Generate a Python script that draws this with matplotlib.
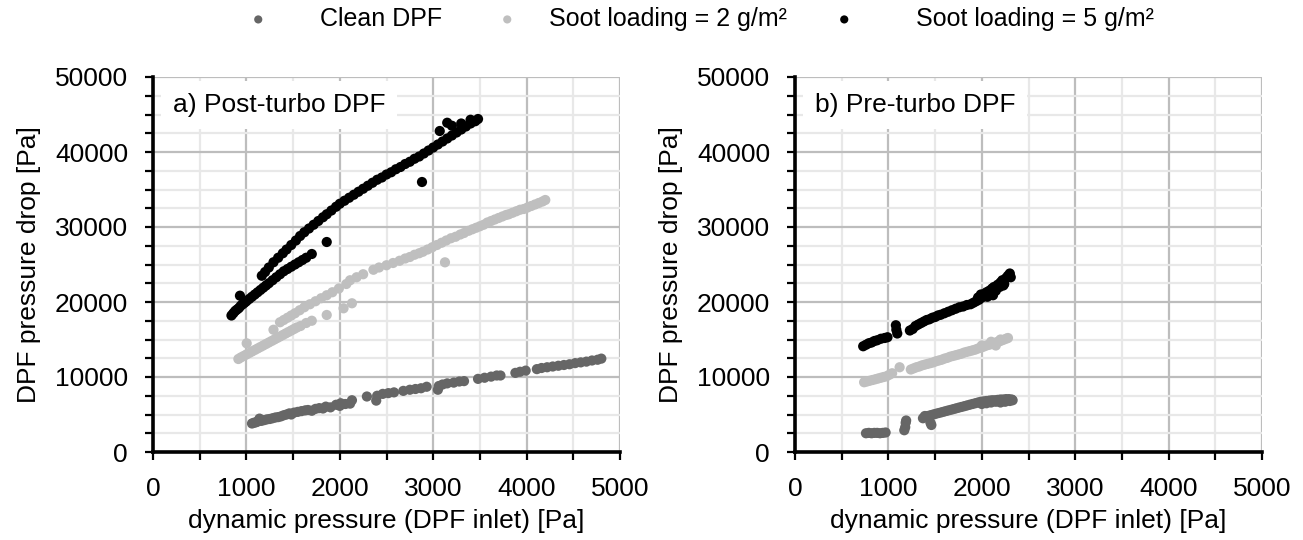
import matplotlib
matplotlib.use("Agg")
import matplotlib.pyplot as plt
from matplotlib.ticker import MultipleLocator
import numpy as np

plt.rcParams['font.family'] = ['Liberation Sans', 'DejaVu Sans']

# ---------------- data ----------------
# a) Post-turbo DPF
a_clean_x = [1060, 1080, 1100, 1120, 1140, 1160, 1190, 1220, 1250, 1280, 1310, 1340, 1370, 1400, 1430,
             1460, 1480, 1510, 1550, 1590, 1630, 1660, 1700, 1740, 1780, 1820, 1850, 1900, 1960, 2000,
             2010, 2060, 2110, 2130, 2290, 2390, 2400, 2460, 2520, 2580, 2680, 2750, 2810, 2870, 2930,
             3050, 3060, 3100, 3150, 3220, 3280, 3330, 3480, 3550, 3620, 3680, 3720, 3880, 3930, 3990,
             4110, 4160, 4220, 4280, 4340, 4400, 4460, 4520, 4580, 4640, 4700, 4760, 4800]
a_clean_y = [3800, 3900, 3950, 4050, 4450, 4150, 4250, 4350, 4400, 4500, 4600, 4650, 4750, 4900, 5000,
             5150, 5000, 5250, 5350, 5450, 5550, 5600, 5500, 5750, 5850, 5800, 6050, 5950, 6300, 6150,
             6500, 6400, 6450, 6900, 7400, 6850, 7500, 7750, 7850, 7950, 8150, 8300, 8400, 8500, 8700,
             8300, 8800, 9000, 9150, 9250, 9400, 9450, 9750, 9900, 10050, 10200, 10200, 10550, 10700, 10850,
             11050, 11200, 11300, 11400, 11500, 11600, 11700, 11850, 11950, 12050, 12200, 12300, 12450]

a_soot2_x = [914, 940, 970, 1000, 1030, 1060, 1090, 1120, 1150, 1180, 1210, 1240, 1270, 1300, 1330,
             1360, 1390, 1420, 1450, 1480, 1510, 1540, 1580, 1640, 1700, 1860, 2040, 2130, 1003,
             1290, 1360, 1400, 1440, 1480, 1520, 1570, 1620, 1680, 1740, 1800, 1860, 1920, 1990, 2070,
             2110, 2180, 2250, 2360, 2420, 2500, 2570, 2640, 2700, 2750, 2800, 2850, 2890, 2940, 2990,
             3040, 3090, 3140, 3190, 3240, 3290, 3330, 3380, 3420, 3460, 3500, 3540, 3580, 3620, 3660,
             3700, 3740, 3780, 3810, 3850, 3890, 3930, 3970, 4010, 4050, 4090, 4130, 4170, 4200, 3126]
a_soot2_y = [12400, 12600, 12800, 13000, 13200, 13400, 13600, 13800, 14000, 14200, 14400, 14600, 14800, 15000, 15200,
             15400, 15600, 15800, 16000, 16200, 16400, 16600, 16800, 17200, 17500, 18270, 19160, 19830, 14490,
             16300, 17300, 17600, 17900, 18200, 18500, 18900, 19300, 19700, 20100, 20500, 20900, 21300, 21800, 22400,
             22900, 23300, 23700, 24300, 24600, 24900, 25200, 25500, 25800, 26000, 26300, 26500, 26700, 27000, 27300,
             27600, 27900, 28200, 28500, 28700, 29000, 29200, 29500, 29700, 29900, 30100, 30300, 30600, 30800, 31000,
             31200, 31400, 31600, 31700, 31900, 32100, 32300, 32400, 32600, 32800, 33000, 33200, 33400, 33600, 25290]

a_soot5_x = [840, 860, 880, 900, 920, 940, 960, 980, 1000, 1030, 1060, 1090, 1120, 1150, 1180, 1210,
             1240, 1280, 1320, 1360, 1400, 1440, 1480, 1520, 1560, 1600, 1640, 1700,
             931, 1860, 2880, 3070, 3150, 3200, 3300, 3400,
             1165, 1200, 1240, 1290, 1340, 1390, 1430, 1480, 1530, 1575, 1620, 1670, 1720, 1770, 1820,
             1860, 1910, 1960, 2000, 2050, 2100, 2150, 2200, 2250, 2300, 2350, 2400, 2450, 2500, 2550,
             2600, 2650, 2700, 2750, 2800, 2850, 2900, 2950, 3000, 3050, 3100, 3150, 3200, 3250, 3300,
             3350, 3400, 3450, 3480]
a_soot5_y = [18200, 18500, 18800, 19000, 19200, 19500, 19700, 19900, 20100, 20400, 20700, 21000, 21300, 21600, 21900, 22200,
             22500, 22900, 23300, 23700, 24100, 24400, 24700, 25000, 25300, 25600, 25900, 26400,
             20840, 28000, 36000, 42800, 43900, 43500, 43800, 44300,
             23500, 24000, 24600, 25300, 25900, 26500, 27000, 27600, 28200, 28800, 29300, 29800, 30300, 30800, 31300,
             31700, 32200, 32700, 33100, 33500, 33900, 34300, 34700, 35100, 35500, 35900, 36300, 36600, 37000, 37300,
             37700, 38000, 38400, 38700, 39100, 39400, 39800, 40200, 40600, 41000, 41400, 41800, 42200, 42600, 43000,
             43400, 43800, 44100, 44400]

# b) Pre-turbo DPF
b_clean_x = [760, 790, 820, 850, 880, 910, 940, 970, 1170, 1180, 1185, 1190, 1370, 1390, 1460, 1450,
             1420, 1450, 1480, 1510, 1540, 1570, 1600, 1630, 1660, 1690, 1720, 1750, 1780, 1810, 1840,
             1870, 1900, 1930, 1960, 1990, 2020, 2050, 2080, 2110, 2140, 2170, 2200, 2230, 2260, 2290,
             2320, 2000, 2050, 2100, 2150, 2200, 2250, 2300, 2330]
b_clean_y = [2500, 2550, 2500, 2550, 2550, 2500, 2550, 2600, 2900, 3300, 3900, 4200, 4500, 4800, 3600, 3900,
             4800, 4900, 5000, 5100, 5200, 5300, 5400, 5500, 5600, 5700, 5800, 5900, 6000, 6100, 6200,
             6300, 6400, 6500, 6600, 6700, 6750, 6800, 6850, 6900, 6900, 6950, 7000, 7000, 7050, 7050,
             7000, 6400, 6500, 6600, 6700, 6600, 6700, 6800, 6900]

b_soot2_x = [740, 770, 800, 830, 860, 890, 920, 950, 980, 1010, 1040, 1120, 1240, 1270, 1300, 1330,
             1360, 1390, 1420, 1450, 1480, 1510, 1540, 1570, 1600, 1630, 1660, 1690, 1720, 1750, 1780,
             1810, 1840, 1870, 1900, 1930, 1960, 1990, 2020, 2050, 2080, 2110, 2140, 2170, 2200, 2230,
             2260, 2280, 2000, 2100, 2200, 2150]
b_soot2_y = [9300, 9400, 9500, 9600, 9700, 9800, 9900, 10000, 10100, 10300, 10500, 11300, 11000, 11150, 11300, 11400,
             11550, 11650, 11750, 11850, 11950, 12100, 12200, 12300, 12450, 12550, 12700, 12800, 12900, 13000, 13100,
             13250, 13350, 13450, 13550, 13650, 13800, 13900, 14050, 14200, 14300, 14400, 14550, 14700, 14800, 14950,
             15100, 15200, 14200, 14700, 15000, 14200]

b_soot5_x = [730, 760, 790, 820, 850, 880, 920, 960, 990, 1080, 1095, 1085, 1230, 1260, 1290, 1320,
             1350, 1380, 1410, 1440, 1470, 1500, 1530, 1560, 1600, 1640, 1680, 1720, 1760, 1800, 1840,
             1880, 1910, 1940, 1970, 2000, 2010, 2030, 2050, 2060, 2080, 2100, 2110, 2130, 2150, 2170,
             2190, 2200, 2220, 2240, 2260, 2280, 2300, 2310, 2160, 2070, 2120, 2230, 1990, 1960]
b_soot5_y = [14100, 14300, 14500, 14600, 14800, 14900, 15100, 15200, 15300, 16900, 15800, 16300, 16200, 16400, 16800, 17000,
             17200, 17400, 17600, 17700, 17900, 18000, 18200, 18300, 18500, 18700, 18900, 19100, 19300, 19400, 19600,
             19700, 19900, 20100, 20300, 20600, 21000, 20800, 21300, 20700, 21500, 21200, 21800, 22000, 21500, 22300,
             22000, 22600, 22900, 22400, 23200, 23500, 23800, 23300, 21900, 20900, 20900, 22200, 21000, 20600]

series_labels = ['Clean DPF', 'Soot loading = 2 g/m²', 'Soot loading = 5 g/m²']
series_colors = ['#666666', '#bfbfbf', '#000000']
panel_titles = ['a) Post-turbo DPF', 'b) Pre-turbo DPF']
x_label = 'dynamic pressure (DPF inlet) [Pa]'
y_label = 'DPF pressure drop [Pa]'

panels = [
    [(a_clean_x, a_clean_y), (a_soot2_x, a_soot2_y), (a_soot5_x, a_soot5_y)],
    [(b_clean_x, b_clean_y), (b_soot2_x, b_soot2_y), (b_soot5_x, b_soot5_y)],
]

# ---------------- figure ----------------
W, H = 1303, 540
fig = plt.figure(figsize=(W / 100, H / 100), dpi=100)
FS = 19
LFS = 18

axes = [fig.add_axes([153 / W, 88 / H, 467 / W, 375 / H]),
        fig.add_axes([795 / W, 88 / H, 467 / W, 375 / H])]

for ax, data, title in zip(axes, panels, panel_titles):
    handles = []
    for (xs, ys), lab, col in zip(data, series_labels, series_colors):
        h = ax.scatter(xs, ys, s=54, color=col, edgecolors='none', label=lab, zorder=3)
        handles.append(h)
    ax.set_xlim(0, 5000)
    ax.set_ylim(0, 50000)
    ax.xaxis.set_major_locator(MultipleLocator(1000))
    ax.xaxis.set_minor_locator(MultipleLocator(500))
    ax.yaxis.set_major_locator(MultipleLocator(10000))
    ax.yaxis.set_minor_locator(MultipleLocator(2500))
    ax.set_axisbelow(True)
    ax.grid(which='major', color='#bdbdbd', linewidth=1.6)
    ax.grid(which='minor', color='#e8e8e8', linewidth=1.6)
    for sp in ['top', 'right']:
        ax.spines[sp].set_visible(False)
    for sp in ['left', 'bottom']:
        ax.spines[sp].set_linewidth(2.6)
    ax.tick_params(which='major', direction='out', length=6, width=1.6, labelsize=FS, pad=12)
    ax.tick_params(which='minor', direction='out', length=6, width=1.6)
    ax.set_xlabel(x_label, fontsize=FS, labelpad=6)
    ax.set_ylabel(y_label, fontsize=FS, labelpad=10)
    ax.text(0.042, 0.925, title, transform=ax.transAxes, fontsize=FS, va='center', ha='left',
            bbox=dict(boxstyle='square,pad=0.45', facecolor='white', edgecolor='none'), zorder=4)

# legend entries (one per series, positioned like the original)
leg_anchor_x = [252, 501, 838]
leg_textpad = [2.22, 1.42, 2.62]
for h, lab, ax_px, tp in zip(handles, series_labels, leg_anchor_x, leg_textpad):
    fig.legend([h], [lab], loc='center left', bbox_to_anchor=(ax_px / W, 1 - 19 / H),
               frameon=False, fontsize=LFS, markerscale=0.8, handlelength=0.5,
               handletextpad=tp, borderpad=0, borderaxespad=0)

fig.savefig('out.png', dpi=100)
